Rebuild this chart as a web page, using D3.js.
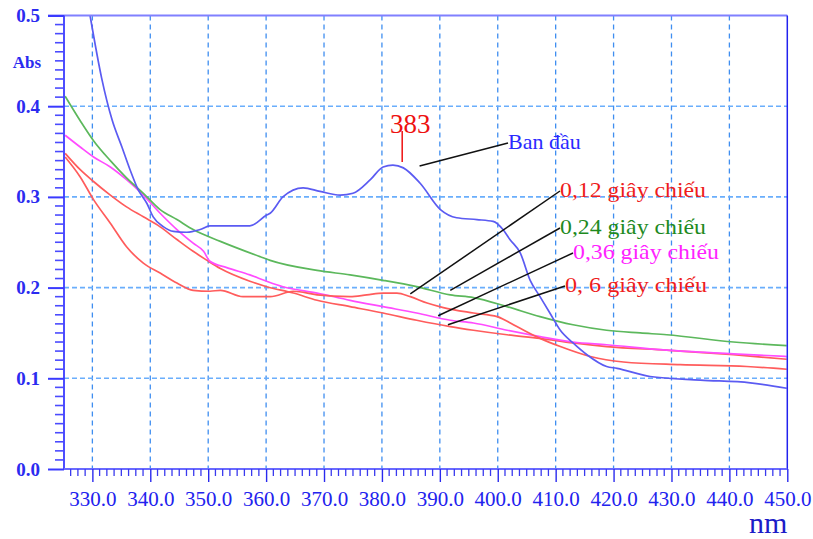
<!DOCTYPE html>
<html>
<head>
<meta charset="utf-8">
<script src="https://cdn.jsdelivr.net/npm/d3@7"></script>
<style>
  body { margin: 0; background: #fff; }
  svg { display: block; }
  .serif { font-family: "Liberation Serif", "Times New Roman", serif; }
</style>
</head>
<body>
<svg id="chart" width="813" height="539"></svg>
<script>
// wavelength (nm) / absorbance pairs
var banDau = [
  [329.6, 0.500], [331.6, 0.431], [333.4, 0.385], [335.1, 0.355], [336.5, 0.330],
  [337.9, 0.308], [339.4, 0.293], [340.5, 0.278], [342.3, 0.267], [344.0, 0.262],
  [346.3, 0.261], [348.6, 0.264], [350.3, 0.268], [357.2, 0.268], [360.1, 0.280],
  [360.7, 0.282], [362.9, 0.300], [366.4, 0.310], [369.3, 0.306], [372.8, 0.302],
  [375.0, 0.304], [378.0, 0.319], [380.2, 0.333], [381.9, 0.335], [383.7, 0.332],
  [386.6, 0.315], [390.1, 0.286], [392.9, 0.277], [396.4, 0.275], [399.2, 0.273],
  [400.9, 0.264], [402.1, 0.253], [403.9, 0.238], [405.6, 0.208], [407.3, 0.190],
  [409.0, 0.172], [410.8, 0.153], [413.0, 0.139], [415.4, 0.126], [418.8, 0.113],
  [420.6, 0.111], [426.3, 0.102], [435.0, 0.098], [443.6, 0.095], [449.9, 0.089]
];
var s012 = [
  [325.3, 0.344], [327.9, 0.322], [330.2, 0.297], [333.1, 0.271], [335.9, 0.245],
  [338.8, 0.227], [341.7, 0.216], [344.6, 0.205], [347.4, 0.197], [350.3, 0.196],
  [352.1, 0.197], [356.0, 0.190], [360.7, 0.190], [364.7, 0.196], [368.8, 0.192],
  [374.5, 0.190], [377.4, 0.192], [380.2, 0.194], [382.6, 0.194], [384.9, 0.190],
  [387.8, 0.183], [390.6, 0.178], [395.8, 0.172], [399.9, 0.168], [403.3, 0.157],
  [407.3, 0.144], [410.8, 0.135], [416.0, 0.124], [421.7, 0.118], [431.5, 0.115],
  [443.0, 0.113], [449.9, 0.110]
];
var s024 = [
  [325.3, 0.411], [327.9, 0.384], [330.2, 0.362], [333.1, 0.340], [335.9, 0.321],
  [338.8, 0.304], [341.7, 0.286], [344.6, 0.275], [347.4, 0.264], [352.1, 0.251],
  [359.0, 0.234], [360.7, 0.230], [368.8, 0.219], [374.5, 0.214], [380.2, 0.208],
  [386.0, 0.201], [391.8, 0.192], [395.8, 0.189], [401.6, 0.179], [407.3, 0.168],
  [413.0, 0.159], [418.8, 0.153], [424.6, 0.150], [429.2, 0.148], [440.7, 0.140],
  [449.9, 0.136]
];
var s036 = [
  [325.3, 0.368], [327.9, 0.355], [330.2, 0.344], [333.1, 0.333], [335.9, 0.319],
  [338.8, 0.302], [341.7, 0.282], [344.6, 0.264], [347.4, 0.249], [349.2, 0.240],
  [350.3, 0.229], [353.2, 0.222], [357.2, 0.214], [360.1, 0.207], [362.9, 0.201],
  [368.8, 0.194], [374.5, 0.186], [380.2, 0.179], [386.0, 0.172], [391.8, 0.164],
  [395.8, 0.161], [401.6, 0.153], [407.3, 0.146], [413.0, 0.140], [418.8, 0.137],
  [429.2, 0.131], [440.7, 0.127], [449.9, 0.124]
];
var s06 = [
  [325.3, 0.348], [327.9, 0.330], [330.2, 0.317], [333.1, 0.302], [335.9, 0.289],
  [338.8, 0.278], [341.7, 0.267], [344.6, 0.253], [347.4, 0.240], [349.8, 0.230],
  [352.1, 0.221], [357.2, 0.207], [360.1, 0.201], [364.7, 0.194], [368.8, 0.186],
  [374.5, 0.179], [380.2, 0.172], [386.0, 0.164], [391.8, 0.157], [395.8, 0.153],
  [401.6, 0.148], [407.3, 0.144], [413.0, 0.139], [418.8, 0.135], [429.2, 0.131],
  [440.7, 0.126], [449.9, 0.121]
];

var xTicks = [330, 340, 350, 360, 370, 380, 390, 400, 410, 420, 430, 440, 450];
var yTicks = [0.0, 0.1, 0.2, 0.3, 0.4, 0.5];
var xGrid = [330, 340, 350, 360, 370, 380, 390, 400, 410, 420, 430, 440];
var yGrid = [0.1, 0.2, 0.3, 0.4];

var peakNm = 383.5;
var peakLabel = "383";

// series labels with the point each leader line points at
var seriesLabels = [
  { text: "Ban đầu",         color: "#2a2aff", at: [386.5, 0.334], lx: 508, ly: 149, fs: 22, len: null },
  { text: "0,12 giây chiếu", color: "#ee1c1c", at: [384.9, 0.193], lx: 560, ly: 197, fs: 22, len: 146 },
  { text: "0,24 giây chiếu", color: "#1e8a1e", at: [391.8, 0.197], lx: 560, ly: 234, fs: 22, len: 146 },
  { text: "0,36 giây chiếu", color: "#ff22ff", at: [389.7, 0.169], lx: 573, ly: 259, fs: 22, len: 146 },
  { text: "0, 6 giây chiếu", color: "#ee1c1c", at: [391.4, 0.159], lx: 565, ly: 292, fs: 22, len: 142 }
];

var svg = d3.select("#chart");
var pL = 64, pR = 787.3, pT = 15.5, pB = 469;

var x = d3.scaleLinear().domain([325.1, 450]).range([pL, pR]);
var y = d3.scaleLinear().domain([0, 0.5]).range([pB, pT]);

svg.append("defs").append("clipPath").attr("id", "plot")
  .append("rect").attr("x", pL).attr("y", pT)
  .attr("width", pR - pL).attr("height", pB - pT);

// grid
var grid = svg.append("g");
grid.selectAll(".vg").data(xGrid).enter().append("line")
  .attr("x1", d => x(d)).attr("x2", d => x(d))
  .attr("y1", pT).attr("y2", pB)
  .attr("stroke", "#3f8ef0").attr("stroke-width", 1.3)
  .attr("stroke-dasharray", "5,4");
grid.selectAll(".hg").data(yGrid).enter().append("line")
  .attr("x1", pL).attr("x2", pR)
  .attr("y1", d => y(d)).attr("y2", d => y(d))
  .attr("stroke", "#6aaefc").attr("stroke-width", 1.6)
  .attr("stroke-dasharray", "5,3");

// curves
var line = d3.line().x(d => x(d[0])).y(d => y(d[1])).curve(d3.curveMonotoneX);
var series = [
  { data: s06, color: "#ff5c5c" },
  { data: s036, color: "#ff4cff" },
  { data: s012, color: "#ff5c5c" },
  { data: s024, color: "#5cb85c" },
  { data: banDau, color: "#5b5bf2" }
];
svg.append("g").attr("clip-path", "url(#plot)")
  .selectAll("path").data(series).enter().append("path")
  .attr("d", d => line(d.data))
  .attr("fill", "none")
  .attr("stroke", d => d.color)
  .attr("stroke-width", 1.7);

// frame: top line, right line
svg.append("line").attr("x1", 48).attr("x2", pR).attr("y1", pT).attr("y2", pT)
  .attr("stroke", "#8080ff").attr("stroke-width", 2);
svg.append("line").attr("x1", pR).attr("x2", pR).attr("y1", pT).attr("y2", pB)
  .attr("stroke", "#2222ee").attr("stroke-width", 1.5);

// y axis
var yAxis = d3.axisLeft(y).tickValues(yTicks).tickSize(16).tickFormat(d3.format(".1f"));
var gy = svg.append("g").attr("transform", "translate(" + pL + ",0)").call(yAxis);
gy.select(".domain").attr("stroke", "#3a3aff").attr("stroke-width", 1.8)
  .attr("d", "M0," + pT + "V" + pB);
gy.selectAll(".tick line").attr("stroke", "#3a3aff").attr("stroke-width", 2);
gy.selectAll(".tick text")
  .attr("class", "serif").attr("x", -24)
  .attr("fill", "#2b2bf0").attr("font-size", 19).attr("font-weight", "bold");
var yMinor = d3.range(0, 51).map(i => i / 100).filter(v => Math.round(v * 100) % 10 !== 0);
svg.append("g").selectAll("line").data(yMinor).enter().append("line")
  .attr("x1", pL - 9).attr("x2", pL)
  .attr("y1", d => y(d)).attr("y2", d => y(d))
  .attr("stroke", "#4a4aff").attr("stroke-width", 1.6);
svg.append("text").attr("class", "serif")
  .attr("x", 27).attr("y", 68).attr("text-anchor", "middle")
  .attr("font-size", 17).attr("font-weight", "bold").attr("fill", "#2b2bf0")
  .text("Abs");

// x axis
var xAxis = d3.axisBottom(x).tickValues(xTicks).tickSize(13).tickFormat(d3.format(".1f"));
var gx = svg.append("g").attr("transform", "translate(0," + pB + ")").call(xAxis);
gx.select(".domain").attr("stroke", "#6a6aff").attr("stroke-width", 2.2)
  .attr("d", "M" + pL + ",0H" + pR);
gx.selectAll(".tick line").attr("stroke", "#2a2aee").attr("stroke-width", 1.4);
gx.selectAll(".tick text")
  .attr("class", "serif").attr("y", 22)
  .attr("fill", "#2222ee").attr("font-size", 21);
var xMinor = d3.range(326.25, 450, 1.25).filter(v => Math.abs(v % 10) > 0.01);
svg.append("g").selectAll("line").data(xMinor).enter().append("line")
  .attr("x1", d => x(d)).attr("x2", d => x(d))
  .attr("y1", pB).attr("y2", pB + 7)
  .attr("stroke", "#3a3aee").attr("stroke-width", 1.3);
svg.append("text").attr("class", "serif")
  .attr("x", pR).attr("y", 533).attr("text-anchor", "end")
  .attr("font-size", 30).attr("fill", "#1c1cc8")
  .text("nm");

// peak marker
svg.append("line")
  .attr("x1", x(peakNm)).attr("x2", x(peakNm))
  .attr("y1", 131).attr("y2", 162)
  .attr("stroke", "#ee1111").attr("stroke-width", 1.5);
svg.append("text").attr("class", "serif")
  .attr("x", x(peakNm) + 8).attr("y", 133).attr("text-anchor", "middle")
  .attr("font-size", 27).attr("fill", "#ee1111")
  .text(peakLabel);

// labels and leader lines
var lab = svg.append("g");
seriesLabels.forEach(function(d) {
  lab.append("line")
    .attr("x1", x(d.at[0])).attr("y1", y(d.at[1]))
    .attr("x2", d.lx).attr("y2", d.ly - 6)
    .attr("stroke", "#111").attr("stroke-width", 1.5);
  var t = lab.append("text").attr("class", "serif")
    .attr("x", d.lx).attr("y", d.ly)
    .attr("font-size", d.fs).attr("fill", d.color)
    .text(d.text);
  if (d.len) t.attr("textLength", d.len).attr("lengthAdjust", "spacingAndGlyphs");
});
</script>
</body>
</html>
